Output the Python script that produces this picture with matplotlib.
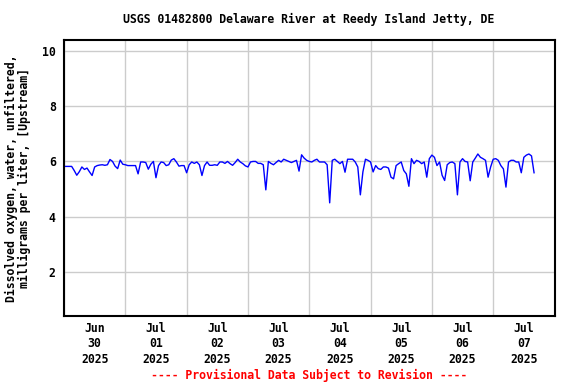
import matplotlib
matplotlib.use("Agg")
import matplotlib.pyplot as plt
import matplotlib.dates as mdates
import numpy as np
import pandas as pd

# ── data: hourly dissolved oxygen (mg/L), one list per day
jun30 = [5.82, 5.82, 5.82, 5.82, 5.67, 5.50, 5.63, 5.80, 5.71, 5.76, 5.62, 5.49,
         5.80, 5.85, 5.87, 5.88, 5.86, 5.88, 6.07, 6.00, 5.83, 5.74, 6.05, 5.90]
jul01 = [5.88, 5.85, 5.85, 5.85, 5.85, 5.55, 5.98, 5.98, 5.96, 5.72, 5.90, 6.00,
         5.41, 5.85, 5.98, 5.96, 5.85, 5.88, 6.05, 6.10, 5.98, 5.83, 5.85, 5.85]
jul02 = [5.59, 5.88, 5.98, 5.93, 5.98, 5.88, 5.49, 5.85, 5.98, 5.86, 5.86, 5.88,
         5.86, 5.98, 5.98, 5.93, 6.00, 5.92, 5.86, 5.96, 6.08, 5.98, 5.92, 5.84]
jul03 = [5.80, 5.98, 6.00, 6.00, 5.93, 5.93, 5.88, 4.97, 6.00, 5.93, 5.88, 5.96,
         6.04, 5.98, 6.08, 6.04, 6.00, 5.96, 6.00, 6.04, 5.65, 6.24, 6.12, 6.04]
jul04 = [6.00, 5.98, 6.04, 6.08, 5.98, 5.98, 5.98, 5.88, 4.50, 6.04, 6.08, 6.00,
         5.92, 6.00, 5.61, 6.08, 6.08, 6.08, 5.98, 5.80, 4.79, 5.62, 6.08, 6.04]
jul05 = [5.98, 5.62, 5.85, 5.74, 5.71, 5.80, 5.80, 5.76, 5.43, 5.37, 5.85, 5.92,
         5.98, 5.67, 5.55, 5.10, 6.10, 5.92, 6.04, 6.00, 5.92, 5.98, 5.43, 6.10]
jul06 = [6.23, 6.15, 5.85, 5.98, 5.50, 5.31, 5.88, 5.96, 5.98, 5.92, 4.79, 5.98,
         6.10, 6.00, 5.98, 5.30, 5.98, 6.12, 6.27, 6.15, 6.10, 6.04, 5.43, 5.80]
jul07 = [6.08, 6.10, 6.04, 5.85, 5.73, 5.07, 5.98, 6.04, 6.04, 5.98, 5.98, 5.59,
         6.15, 6.23, 6.27, 6.20, 5.59]

do_values = jun30 + jul01 + jul02 + jul03 + jul04 + jul05 + jul06 + jul07
times = pd.date_range("2025-06-30 00:00", periods=len(do_values), freq="h")

x_start = pd.Timestamp("2025-06-30")
x_end = pd.Timestamp("2025-07-08")
y_ticks = [2, 4, 6, 8, 10]

TITLE = "USGS 01482800 Delaware River at Reedy Island Jetty, DE"
YLABEL = "Dissolved oxygen, water, unfiltered,\nmilligrams per liter, [Upstream]"
NOTE = "---- Provisional Data Subject to Revision ----"

FONT = dict(family="DejaVu Sans Mono", fontweight="bold", fontsize=8.3)

fig = plt.figure(figsize=(5.76, 3.84), dpi=100)
ax = fig.add_axes([64 / 576, 1 - 316 / 384, (554.5 - 64) / 576, (316 - 40) / 384])

ax.plot(times, do_values, color="#0000FF", linewidth=1.0)

ax.set_xlim(x_start, x_end)
ax.set_ylim(0.4, 10.4)
ax.set_yticks(y_ticks)

# gridlines at midnight, labels at noon
ax.xaxis.set_major_locator(mdates.DayLocator())
ax.xaxis.set_major_formatter(plt.NullFormatter())
ax.xaxis.set_minor_locator(mdates.HourLocator(byhour=[12]))
ax.xaxis.set_minor_formatter(mdates.DateFormatter("%b\n%d\n%Y"))
ax.tick_params(axis="x", which="both", length=0, pad=4)
ax.tick_params(axis="y", length=0, pad=6)
for lbl in ax.get_xticklabels(minor=True) + ax.get_yticklabels():
    lbl.set_fontfamily(FONT["family"])
    lbl.set_fontweight("bold")
    lbl.set_fontsize(FONT["fontsize"])
    lbl.set_linespacing(1.25)

ax.grid(True, which="major", color="#CCCCCC", linewidth=1.0)
ax.set_axisbelow(True)
for sp in ax.spines.values():
    sp.set_color("black")
    sp.set_linewidth(1.5)

ax.set_ylabel(YLABEL, labelpad=8, linespacing=1.0, **FONT)
fig.text(309 / 576, 1 - 19 / 384, TITLE, ha="center", va="center", **FONT)
fig.text(309 / 576, 1 - 375 / 384, NOTE, ha="center", va="center", color="red", **FONT)

fig.savefig("out.png", dpi=100)
